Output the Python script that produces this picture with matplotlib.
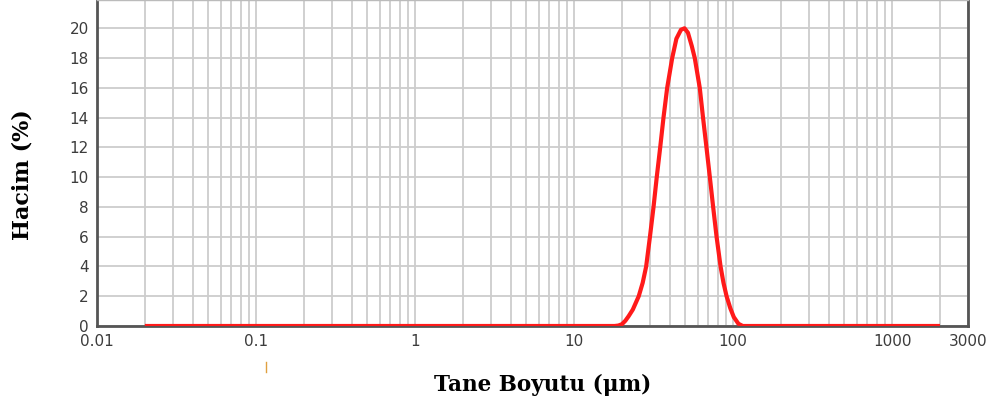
import matplotlib
matplotlib.use('Agg')
import matplotlib.pyplot as plt
from matplotlib.lines import Line2D
import numpy as np

# particle size (um) and volume (%)
size = [0.02, 18, 19, 20, 21, 22, 23.4, 25.5, 27, 28.4, 30, 31.6, 33.1, 34.8, 36.5,
        38.5, 41.4, 44, 47, 49.5, 52, 55, 57.4, 61.7, 64.7, 68, 71.4, 74.9, 78.7,
        83.4, 87, 91, 96, 101, 108, 115, 2000]
volume = [0, 0, 0.03, 0.12, 0.35, 0.65, 1.1, 2.0, 2.9, 4.0, 6.0, 8.0, 10.0, 12.0, 14.0,
          16.0, 18.0, 19.3, 19.9, 20.0, 19.7, 18.8, 18.0, 16.0, 14.0, 12.0, 10.0, 8.0, 6.0,
          4.0, 2.9, 2.0, 1.2, 0.6, 0.15, 0, 0]

xticks = [0.01, 0.1, 1, 10, 100, 1000, 3000]
xticklabels = ['0.01', '0.1', '1', '10', '100', '1000', '3000']
yticks = list(range(0, 21, 2))

fig = plt.figure(figsize=(10.05, 4.07), dpi=100)
ax = fig.add_axes([97/1005, 1 - 326/407, (968 - 97)/1005, 326/407])

ax.set_xscale('log')
ax.set_xlim(0.01, 3000)
ax.set_ylim(0, 21.9)

ax.grid(True, which='both', axis='x', color='#cdcdcd', lw=1.3)
ax.grid(True, which='major', axis='y', color='#cdcdcd', lw=1.3)
ax.set_axisbelow(True)

ax.plot(size, volume, color='#ff1a1a', lw=3, solid_joinstyle='round',
        solid_capstyle='butt', zorder=3)

ax.set_xticks(xticks)
ax.set_xticklabels(xticklabels)
ax.set_yticks(yticks)
ax.minorticks_on()
ax.yaxis.set_minor_locator(matplotlib.ticker.NullLocator())
ax.tick_params(which='both', length=0)
ax.tick_params(axis='both', labelsize=11, labelcolor='#3c3c3c')
ax.tick_params(axis='x', pad=6)
ax.tick_params(axis='y', pad=6)

for side in ['left', 'bottom', 'right']:
    ax.spines[side].set_color('#555555')
    ax.spines[side].set_linewidth(2)
ax.spines['top'].set_color('#bbbbbb')
ax.spines['top'].set_linewidth(1)

fig.text(23/1005, 1 - 175/407, 'Hacim (%)', rotation=90, ha='center', va='center',
         fontsize=16, fontweight='bold', family='DejaVu Serif')
fig.text(543/1005, 1 - 385/407, 'Tane Boyutu (\u03bcm)', ha='center', va='center',
         fontsize=15.5, fontweight='bold', family='DejaVu Serif')

# small stray mark under the axis
fig.add_artist(Line2D([266/1005, 266/1005], [1 - 362/407, 1 - 372/407], color='#e0a040', lw=1))

fig.savefig('out.png', dpi=100)
